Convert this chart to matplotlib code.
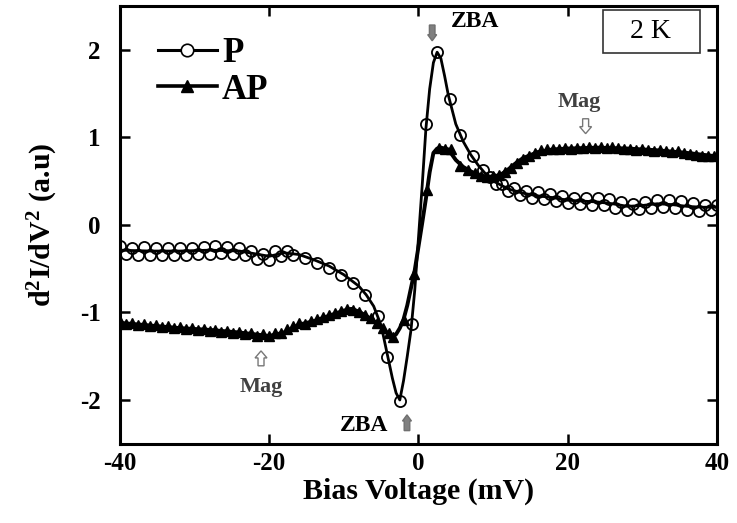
import matplotlib
matplotlib.use("Agg")
import matplotlib.pyplot as plt
from matplotlib.lines import Line2D
from matplotlib.patches import FancyArrow, Rectangle

plt.rcParams["font.family"] = ["Liberation Serif", "DejaVu Serif"]
plt.rcParams["mathtext.default"] = "regular"
plt.rcParams["axes.unicode_minus"] = False

# ---- smooth curves (mV, a.u.) ----
P_LINE_X = [-40, -36, -32, -28, -24, -22, -20, -18, -16, -14, -12, -10, -8, -7, -6,
            -5, -4, -3.5, -3, -2.5, -2, -1.5, -1, -0.5, 0, 0.5, 1, 1.5, 2, 2.5, 3,
            3.5, 4, 5, 6, 7, 8, 9, 10, 12, 14, 16, 18, 20, 22, 24, 26, 28, 30, 32,
            34, 36, 38, 40]
P_LINE_Y = [-0.29, -0.30, -0.30, -0.29, -0.30, -0.33, -0.36, -0.32, -0.34, -0.40,
            -0.47, -0.57, -0.70, -0.80, -0.93, -1.15, -1.55, -1.75, -1.92, -2.00,
            -1.78, -1.50, -1.20, -0.75, -0.15, 0.45, 1.10, 1.55, 1.85, 1.97, 1.90,
            1.70, 1.48, 1.15, 0.95, 0.80, 0.68, 0.58, 0.50, 0.41, 0.36, 0.33, 0.31,
            0.28, 0.27, 0.26, 0.24, 0.21, 0.22, 0.24, 0.23, 0.21, 0.20, 0.20]

AP_LINE_X = [-40, -36, -32, -28, -24, -22, -20, -18, -16, -14, -12, -10, -9, -8,
             -7, -6, -5, -4, -3.5, -3, -2.5, -2, -1.5, -1, -0.5, 0, 0.5, 1, 1.5,
             2, 2.5, 3, 4, 5, 6, 7, 8, 9, 10, 11, 12, 13, 14, 16, 18, 20, 24, 28,
             32, 36, 40]
AP_LINE_Y = [-1.12, -1.15, -1.18, -1.20, -1.23, -1.25, -1.27, -1.23, -1.14, -1.10,
             -1.04, -0.98, -0.96, -0.99, -1.04, -1.10, -1.17, -1.25, -1.28, -1.25,
             -1.18, -1.08, -0.92, -0.72, -0.52, -0.25, 0.02, 0.30, 0.60, 0.82,
             0.87, 0.88, 0.86, 0.74, 0.66, 0.61, 0.57, 0.55, 0.55, 0.57, 0.63,
             0.70, 0.76, 0.83, 0.86, 0.87, 0.88, 0.87, 0.85, 0.82, 0.78]

# ---- measured points ----
P_X = [-40.0, -39.2, -38.4, -37.6, -36.8, -36.0, -35.2, -34.4, -33.6, -32.8,
       -32.0, -31.2, -30.4, -29.6, -28.8, -28.0, -27.2, -26.4, -25.6, -24.8,
       -24.0, -23.2, -22.4, -21.6, -20.8, -20.0, -19.2, -18.4, -17.6, -16.8,
       -15.2, -13.6, -12.0, -10.4, -8.8, -7.1, -5.4, -4.2, -2.5, -0.85, 1.0,
       2.5, 4.2, 5.6, 7.3, 8.6, 9.6, 10.4, 11.2, 12.0, 12.8, 13.6, 14.4, 15.2,
       16.0, 16.8, 17.6, 18.4, 19.2, 20.0, 20.8, 21.6, 22.4, 23.2, 24.0, 24.8,
       25.6, 26.4, 27.2, 28.0, 28.8, 29.6, 30.4, 31.2, 32.0, 32.8, 33.6, 34.4,
       35.2, 36.0, 36.8, 37.6, 38.4, 39.2, 40.0]
P_Y = [-0.24, -0.33, -0.26, -0.34, -0.25, -0.35, -0.26, -0.34, -0.27, -0.35,
       -0.27, -0.34, -0.26, -0.33, -0.25, -0.33, -0.24, -0.32, -0.25, -0.33,
       -0.27, -0.35, -0.30, -0.39, -0.33, -0.40, -0.30, -0.36, -0.30, -0.34,
       -0.38, -0.44, -0.49, -0.57, -0.67, -0.80, -1.04, -1.51, -2.01, -1.13, 1.15,
       1.97, 1.44, 1.02, 0.78, 0.62, 0.55, 0.46, 0.46, 0.38, 0.42, 0.34, 0.39,
       0.31, 0.37, 0.29, 0.35, 0.27, 0.33, 0.25, 0.31, 0.24, 0.31, 0.23, 0.30,
       0.22, 0.29, 0.19, 0.26, 0.17, 0.24, 0.18, 0.26, 0.19, 0.28, 0.20, 0.28,
       0.19, 0.27, 0.17, 0.25, 0.16, 0.22, 0.17, 0.22]

AP_X = [-40.0, -39.2, -38.4, -37.6, -36.8, -36.0, -35.2, -34.4, -33.6, -32.8,
        -32.0, -31.2, -30.4, -29.6, -28.8, -28.0, -27.2, -26.4, -25.6, -24.8,
        -24.0, -23.2, -22.4, -21.6, -20.8, -20.0, -19.2, -18.4, -17.6, -16.8,
        -16.0, -15.2, -14.4, -13.6, -12.8, -12.0, -11.2, -10.4, -9.6, -8.8,
        -8.0, -7.2, -6.4, -5.6, -4.8, -4.0, -3.4, -2.0, -0.6, 1.2, 2.7, 3.5,
        4.3, 5.6, 6.7, 7.6, 8.4, 9.2, 10.0, 10.8, 11.6, 12.4, 13.2, 14.0, 14.8,
        15.6, 16.4, 17.2, 18.0, 18.8, 19.6, 20.4, 21.2, 22.0, 22.8, 23.6, 24.4,
        25.2, 26.0, 26.8, 27.6, 28.4, 29.2, 30.0, 30.8, 31.6, 32.4, 33.2, 34.0,
        34.8, 35.6, 36.4, 37.2, 38.0, 38.8, 39.6]
AP_Y = [-1.10, -1.13, -1.12, -1.14, -1.13, -1.16, -1.14, -1.17, -1.16, -1.18,
        -1.17, -1.19, -1.18, -1.20, -1.19, -1.21, -1.20, -1.22, -1.21, -1.23,
        -1.22, -1.25, -1.24, -1.27, -1.25, -1.27, -1.24, -1.24, -1.19, -1.16,
        -1.12, -1.13, -1.10, -1.08, -1.05, -1.03, -1.01, -0.98, -0.96, -0.97,
        -1.00, -1.03, -1.07, -1.12, -1.18, -1.24, -1.28, -1.09, -0.56, 0.40,
        0.88, 0.87, 0.86, 0.67, 0.63, 0.59, 0.56, 0.55, 0.56, 0.57, 0.60, 0.65,
        0.70, 0.75, 0.79, 0.82, 0.85, 0.86, 0.87, 0.87, 0.88, 0.87, 0.88, 0.88,
        0.89, 0.88, 0.89, 0.88, 0.89, 0.88, 0.87, 0.86, 0.85, 0.86, 0.85, 0.84,
        0.85, 0.84, 0.83, 0.84, 0.82, 0.81, 0.80, 0.79, 0.78, 0.78]

X_TICKS = [-40, -20, 0, 20, 40]
Y_TICKS = [-2, -1, 0, 1, 2]


def block_arrow(ax, x, y0, y1, fc, ec, shaft, head, head_len):
    ax.add_patch(FancyArrow(x, y0, 0, y1 - y0, width=shaft, head_width=head,
                            head_length=head_len, length_includes_head=True,
                            fc=fc, ec=ec, lw=1.0, zorder=5))


fig = plt.figure(figsize=(7.37, 5.23), dpi=100)
ax = fig.add_axes([0.1628, 0.1515, 0.8100, 0.8375])

ax.plot(P_LINE_X, P_LINE_Y, color="black", lw=2.0, zorder=3)
ax.plot(AP_LINE_X, AP_LINE_Y, color="black", lw=2.8, zorder=3)
ax.plot(P_X, P_Y, ls="none", marker="o", ms=8, mfc="none", mec="black",
        mew=1.3, zorder=4)
ax.plot(AP_X, AP_Y, ls="none", marker="^", ms=7.5, mfc="black", mec="black",
        zorder=4)

ax.set_xlim(-40, 40)
ax.set_ylim(-2.5, 2.5)
ax.set_xticks(X_TICKS)
ax.set_yticks(Y_TICKS)
ax.tick_params(direction="in", length=7, width=1.8, top=True, right=True,
               labelsize=18)
ax.tick_params(axis="x", pad=6)
ax.tick_params(axis="y", pad=14)
for lab in ax.get_xticklabels() + ax.get_yticklabels():
    lab.set_fontweight("bold")
for sp in ax.spines.values():
    sp.set_linewidth(2.2)

ax.set_xlabel("Bias Voltage (mV)", fontsize=21.5, fontweight="bold", labelpad=2)
ax.set_ylabel("d$^2$I/dV$^2$ (a.u)", fontsize=21.5, fontweight="bold",
              labelpad=14)

handles = [
    Line2D([], [], color="black", lw=2.2, marker="o", ms=9, mfc="white",
           mec="black", mew=1.2),
    Line2D([], [], color="black", lw=2.6, marker="^", ms=9, mfc="black"),
]
ax.legend(handles, ["P", "AP"], loc="upper left", bbox_to_anchor=(0.04, 0.96),
          frameon=False, numpoints=1, handlelength=1.7, handletextpad=0.15,
          labelspacing=0.1, borderaxespad=0,
          prop={"size": 25, "weight": "bold"})

# 2 K box
ax.add_patch(Rectangle((0.809, 0.892), 0.1625, 0.098, transform=ax.transAxes,
                       fill=False, ec="#333333", lw=1.2, zorder=6))
ax.text(0.889, 0.941, "2 K", transform=ax.transAxes, ha="center", va="center",
        fontsize=20)

# ZBA markers
block_arrow(ax, 1.84, 2.28, 2.10, "#808080", "#707070", 0.75, 1.2, 0.07)
ax.text(4.3, 2.32, "ZBA", ha="left", va="center", fontsize=17, fontweight="bold")
block_arrow(ax, -1.54, -2.35, -2.17, "#808080", "#707070", 0.75, 1.2, 0.07)
ax.text(-4.1, -2.29, "ZBA", ha="right", va="center", fontsize=17,
        fontweight="bold")

# Mag markers
block_arrow(ax, 22.4, 1.21, 1.04, "white", "#777777", 0.8, 1.6, 0.08)
ax.text(21.5, 1.40, "Mag", ha="center", va="center", fontsize=16,
        fontweight="bold", color="#404040")
block_arrow(ax, -21.1, -1.61, -1.44, "white", "#777777", 0.8, 1.6, 0.08)
ax.text(-21.0, -1.85, "Mag", ha="center", va="center", fontsize=16,
        fontweight="bold", color="#404040")

fig.savefig("out.png", dpi=100, facecolor="white")
